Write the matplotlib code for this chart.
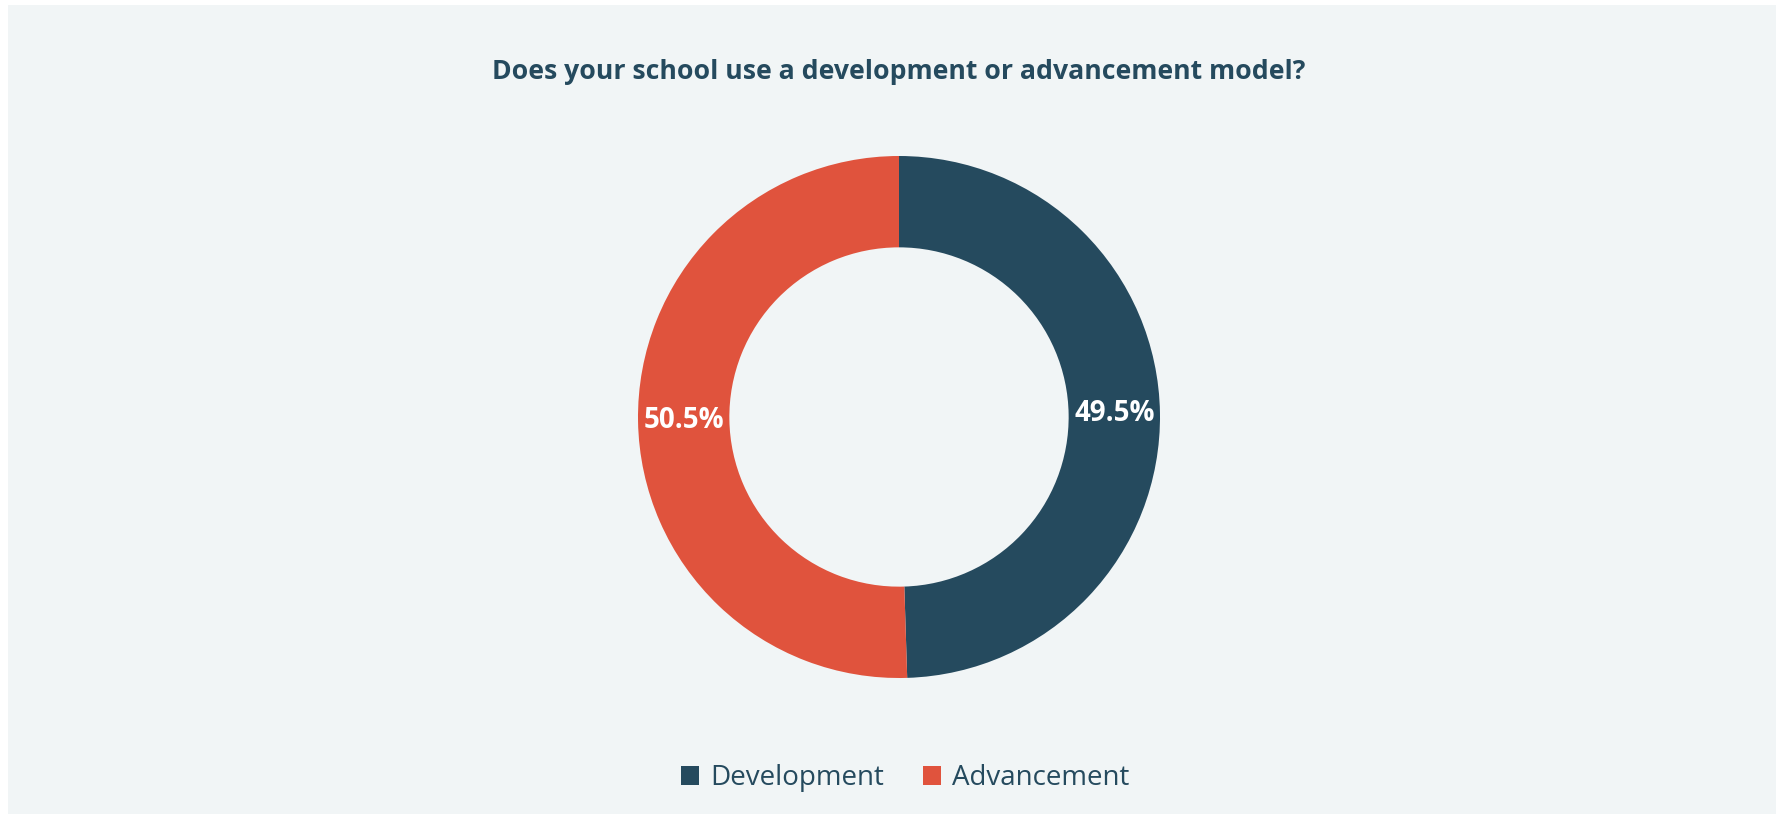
import matplotlib.pyplot as plt
import numpy as np
from matplotlib.patches import Rectangle

categories = ['Development', 'Advancement']
shares = [49.5, 50.5]
colors = ['#254a5e', '#e0533d']

title = 'Does your school use a development or advancement model?'
BG = '#f1f5f6'
TEXT = '#254a5e'

W, H = 1778, 814
fig = plt.figure(figsize=(W / 100, H / 100), dpi=100)
fig.patch.set_facecolor('white')
# light panel behind the chart
fig.patches.append(Rectangle((8 / W, 0), (W - 10) / W, (H - 5) / H,
                             transform=fig.transFigure, facecolor=BG,
                             edgecolor='none', zorder=-1))

# square axes centred on the donut
cx, cy, r = 899, 417, 261
ax = fig.add_axes([(cx - r) / W, 1 - (cy + r) / H, 2 * r / W, 2 * r / H])
ax.patch.set_alpha(0)

wedges, _ = ax.pie(shares, colors=colors, startangle=90, counterclock=False,
                   radius=1.0, wedgeprops=dict(width=0.35, edgecolor='none'))
ax.set_xlim(-1, 1)
ax.set_ylim(-1, 1)
ax.set_aspect('equal')
ax.axis('off')

# value labels in the middle of the ring
for val, w in zip(shares, wedges):
    mid = np.deg2rad((w.theta1 + w.theta2) / 2)
    rr = 1 - 0.35 / 2
    ax.text(rr * np.cos(mid), rr * np.sin(mid), "%.1f%%" % val,
            ha='center', va='center', color='white', fontsize=20,
            fontweight='bold', family='Open Sans')

fig.text(cx / W, 1 - 72 / H, title, ha='center', va='center', color=TEXT,
         fontsize=19.2, fontweight='bold', family='Open Sans')

handles = [Rectangle((0, 0), 1, 1, facecolor=c) for c in colors]
leg = fig.legend(handles, categories, loc='center', bbox_to_anchor=(905 / W, 1 - 778 / H),
                 ncol=2, frameon=False, handlelength=0.65, handleheight=0.65,
                 handletextpad=0.4, columnspacing=1.4,
                 prop=dict(family='Open Sans', size=20))
for t in leg.get_texts():
    t.set_color(TEXT)

fig.savefig('out.png', dpi=100, facecolor=fig.get_facecolor())
